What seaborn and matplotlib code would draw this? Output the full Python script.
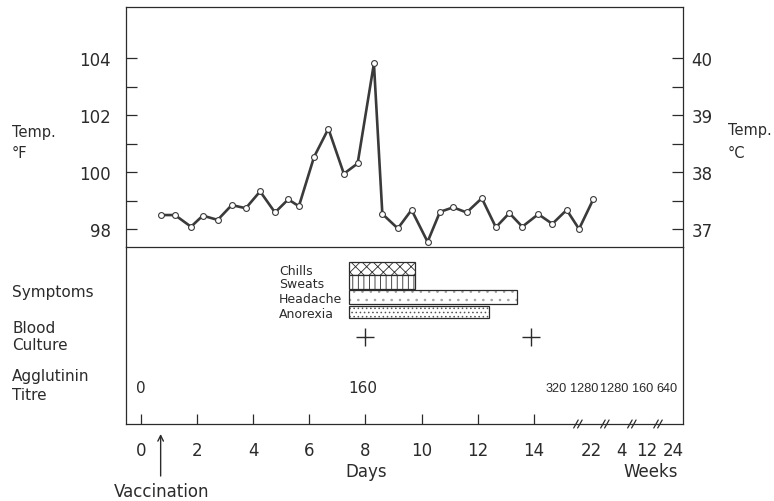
import matplotlib
matplotlib.use("Agg")
import matplotlib.pyplot as plt
from matplotlib import transforms
import numpy as np
import pandas as pd
import seaborn as sns

# ---------------- data ----------------
days = [0.71, 1.22, 1.79, 2.21, 2.74, 3.24, 3.74, 4.25, 4.78, 5.25, 5.63, 6.17,
        6.68, 7.23, 7.72, 8.30, 8.60, 9.15, 9.64, 10.21, 10.65, 11.12, 11.60,
        12.14, 12.64, 13.12, 13.58, 14.15, 14.65, 15.16, 15.60, 16.11]
temp_f = [98.49, 98.49, 98.08, 98.47, 98.32, 98.84, 98.73, 99.32, 98.58, 99.04,
          98.80, 100.53, 101.52, 99.94, 100.30, 103.81, 98.53, 98.02, 98.67,
          97.55, 98.60, 98.76, 98.58, 99.08, 98.06, 98.56, 98.08, 98.52, 98.18,
          98.67, 98.00, 99.05]

symptoms = ["Chills", "Sweats", "Headache", "Anorexia"]
symptom_start = [7.4, 7.4, 7.4, 7.4]
symptom_end = [9.75, 9.75, 13.4, 12.4]

blood_culture_days = [8.0, 13.9]

titre_days = [0.0, 7.9, 14.78, 15.8, 16.86, 17.85, 18.74]
titre_values = ["0", "160", "320", "1280", "1280", "160", "640"]

day_ticks = [0, 2, 4, 6, 8, 10, 12, 14]
week_label_pos = [16.05, 17.1, 18.0, 18.95]
week_labels = ["22", "4", "12", "24"]
break_pos = [15.56, 16.52, 17.48, 18.41]

temp_f_ticks = [98, 100, 102, 104]
temp_f_minor = [99, 101, 103]
temp_c_labels = ["37", "38", "39", "40"]

vaccination_day = 0.71

# ---------------- style ----------------
sns.set_style("white")
plt.rcParams["font.family"] = ["DejaVu Sans"]
plt.rcParams["hatch.linewidth"] = 0.6
INK = "#2b2b2b"
W, H = 774, 502

fig = plt.figure(figsize=(W / 100, H / 100), dpi=100)
L, R = 126 / W, 683 / W
ax2 = fig.add_axes([L, 1 - 425 / H, R - L, 177.5 / H])
ax1 = fig.add_axes([L, 1 - 247.5 / H, R - L, 240 / H], sharex=ax2)
ax2.patch.set_alpha(0)
ax1.patch.set_alpha(0)

xlim = (-0.523, 19.30)

# ---------------- temperature panel ----------------
df = pd.DataFrame({"day": days, "temp": temp_f})
sns.lineplot(data=df, x="day", y="temp", ax=ax1, color="#3a3a3a", lw=1.9,
             marker="o", markersize=4.2, markerfacecolor="white",
             markeredgecolor="#3a3a3a", markeredgewidth=0.8, sort=False)
ax1.set_xlim(*xlim)
ax1.set_ylim(97.386, 105.81)
ax1.set_yticks(temp_f_ticks)
ax1.set_yticks(temp_f_minor, minor=True)
ax1.set_yticklabels([str(t) for t in temp_f_ticks])
ax1.tick_params(axis="y", which="both", direction="in", length=8, width=0.9,
                color=INK, labelsize=12, labelcolor=INK, pad=11, left=True)
ax1.tick_params(axis="x", which="both", bottom=False, labelbottom=False)
ax1.set_xlabel("")
ax1.set_ylabel("")
for s in ax1.spines.values():
    s.set_color(INK)
    s.set_linewidth(0.9)
    s.set_zorder(5)

axr = ax1.twinx()
axr.set_ylim(ax1.get_ylim())
axr.set_yticks(temp_f_ticks)
axr.set_yticks(temp_f_minor, minor=True)
axr.set_yticklabels(temp_c_labels)
axr.tick_params(axis="y", which="both", direction="in", length=8, width=0.9,
                color=INK, labelsize=12, labelcolor=INK, pad=6, right=True)
for s in axr.spines.values():
    s.set_visible(False)

# ---------------- lower panel ----------------
ax2.set_ylim(177.5, 0)
centers = [22.2, 35.4, 50.6, 65.4]
heights = [12.7, 13.6, 13.3, 12.6]
hatches = ["xxx", "|||", "..", "...."]
hatch_cols = [INK, INK, "#a0a0a0", "#555555"]
for i, name in enumerate(symptoms):
    w = symptom_end[i] - symptom_start[i]
    ax2.barh(centers[i], w, left=symptom_start[i], height=heights[i],
             color="white", edgecolor=hatch_cols[i], hatch=hatches[i], lw=0)
    ax2.barh(centers[i], w, left=symptom_start[i], height=heights[i],
             fill=False, edgecolor=INK, lw=0.9)
    ax2.text(4.92, centers[i] + 1.5, name, ha="left", va="center",
             fontsize=9, color=INK)

ax2.plot(blood_culture_days, [90.5] * len(blood_culture_days), ls="none",
         marker="+", markersize=13, markeredgewidth=1.0, color=INK)

for d, v in zip(titre_days, titre_values):
    if d > 14:
        ax2.text(d, 141, v, ha="center", va="center", color=INK,
                 fontsize=9.2, family="Liberation Sans")
    else:
        ax2.text(d, 141, v, ha="center", va="center", color=INK, fontsize=11)

ax2.set_xticks(day_ticks)
ax2.set_xticklabels([str(t) for t in day_ticks])
ax2.set_xticks(week_label_pos, minor=True)
ax2.set_xticklabels(week_labels, minor=True)
ax2.tick_params(axis="x", which="major", direction="in", length=7, width=0.9,
                color=INK, labelsize=12, labelcolor=INK, pad=12, bottom=True)
ax2.tick_params(axis="x", which="minor", direction="in", length=0,
                labelsize=12, labelcolor=INK, pad=12, bottom=True)
ax2.tick_params(axis="y", left=False, labelleft=False)
ax2.spines["top"].set_visible(False)
for k in ["left", "right", "bottom"]:
    ax2.spines[k].set_color(INK)
    ax2.spines[k].set_linewidth(0.9)
ax2.set_xlim(*xlim)

# axis break marks
for b in break_pos:
    for dx in (-0.07, 0.07):
        ax2.plot([b + dx - 0.08, b + dx + 0.08], [181.5, 173.5], color=INK,
                 lw=0.9, clip_on=False)

# ---------------- labels ----------------
def ftext(x, y, s, size=11):
    fig.text(x / W, 1 - y / H, s, color=INK, fontsize=size, ha="left", va="center")

ftext(12, 133, "Temp.", 10.5)
ftext(12, 154, "°F", 10.5)
ftext(728, 130, "Temp.", 10.5)
ftext(728, 154, "°C", 10.5)
ftext(12, 292, "Symptoms")
ftext(12, 329, "Blood")
ftext(12, 346, "Culture")
ftext(12, 377, "Agglutinin")
ftext(12, 396, "Titre")

bt = transforms.blended_transform_factory(ax2.transData, fig.transFigure)
ax2.text(8.04, 30 / H, "Days", transform=bt, ha="center", va="center",
         fontsize=12, color=INK)
ax2.text(18.16, 30 / H, "Weeks", transform=bt, ha="center", va="center",
         fontsize=12, color=INK)

ax2.annotate("", xy=(vaccination_day, H - 435), xycoords=("data", "figure pixels"),
             xytext=(vaccination_day, H - 477), textcoords=("data", "figure pixels"),
             arrowprops=dict(arrowstyle="->", color=INK, lw=1.0,
                             shrinkA=0, shrinkB=0))
ax2.annotate("Vaccination", xy=(vaccination_day + 0.03, H - 492),
             xycoords=("data", "figure pixels"), ha="center", va="center",
             fontsize=12, color=INK, annotation_clip=False)

fig.savefig("out.png", dpi=100, facecolor="white")
